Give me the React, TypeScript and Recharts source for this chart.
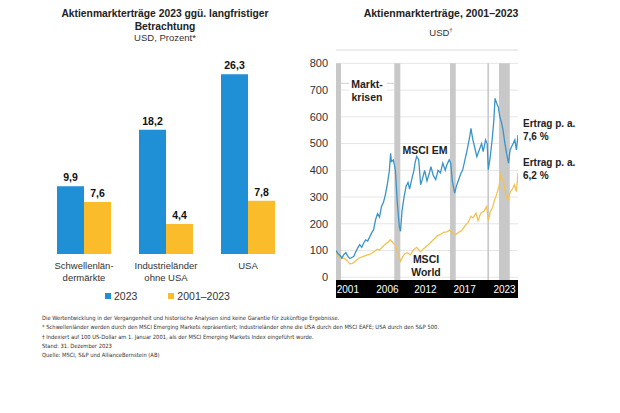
import React from 'react';
import {
  BarChart, Bar, XAxis, YAxis, LabelList, Legend,
  LineChart, Line, CartesianGrid, ReferenceArea, ReferenceLine,
} from 'recharts';

const FONT = "'Liberation Sans', Arial, Helvetica, sans-serif";
const NARROW = "'Liberation Sans Narrow', 'DejaVu Sans Condensed', Arial, sans-serif";
const BLUE = '#1f8fd6';
const YELLOW = '#fbbc2c';
const LINE_BLUE = '#3a94c9';
const LINE_YELLOW = '#f2c352';
const BAND = '#c8c8c8';
const TEXT = '#222';

// ---------- Left chart data ----------
const barCategories = ['Schwellenlän-\ndermärkte', 'Industrieländer\nohne USA', 'USA'];
const returns2023 = [9.9, 18.2, 26.3];
const returnsLongTerm = [7.6, 4.4, 7.8];
const seriesNames = ['2023', '2001–2023'];

// ---------- Right chart data ----------
const emYears = [2001.0, 2001.25, 2001.5, 2001.75, 2002.0, 2002.25, 2002.5, 2002.75, 2003.0, 2003.25, 2003.5, 2003.75, 2004.0, 2004.25, 2004.5, 2004.75, 2005.0, 2005.25, 2005.5, 2005.75, 2006.0, 2006.25, 2006.5, 2006.75, 2007.0, 2007.25, 2007.5, 2007.75, 2007.9, 2008.0, 2008.25, 2008.5, 2008.75, 2009.0, 2009.15, 2009.35, 2009.6, 2009.85, 2010.1, 2010.3, 2010.6, 2010.85, 2011.0, 2011.2, 2011.45, 2011.7, 2011.9, 2012.2, 2012.5, 2012.8, 2013.0, 2013.3, 2013.6, 2013.9, 2014.2, 2014.5, 2014.8, 2015.0, 2015.3, 2015.5, 2015.7, 2016.0, 2016.2, 2016.5, 2016.8, 2017.0, 2017.3, 2017.6, 2017.9, 2018.05, 2018.3, 2018.5, 2018.8, 2019.1, 2019.4, 2019.6, 2019.9, 2020.1, 2020.25, 2020.5, 2020.75, 2020.95, 2021.1, 2021.3, 2021.5, 2021.7, 2021.9, 2022.1, 2022.35, 2022.55, 2022.8, 2023.0, 2023.2, 2023.4, 2023.6, 2023.8, 2024.0];
const emValues = [100, 88, 82, 72, 85, 92, 78, 70, 74, 78, 95, 110, 122, 112, 128, 140, 135, 150, 166, 178, 215, 238, 225, 265, 280, 310, 350, 400, 464, 433, 439, 402, 279, 190, 172, 250, 300, 340, 355, 330, 370, 400, 430, 452, 440, 346, 365, 400, 360, 390, 414, 380, 365, 400, 390, 427, 400, 420, 439, 427, 360, 315, 340, 365, 390, 400, 440, 480, 526, 557, 514, 489, 451, 476, 500, 470, 514, 500, 402, 452, 520, 588, 669, 651, 638, 601, 580, 551, 500, 464, 427, 476, 489, 501, 514, 476, 532];

const worldYears = [2001.0, 2001.3, 2001.7, 2002.0, 2002.4, 2002.75, 2003.1, 2003.5, 2003.9, 2004.3, 2004.8, 2005.3, 2005.8, 2006.2, 2006.5, 2006.9, 2007.3, 2007.6, 2007.85, 2008.2, 2008.5, 2008.8, 2009.15, 2009.4, 2009.7, 2010.0, 2010.4, 2010.8, 2011.2, 2011.7, 2012.0, 2012.4, 2012.8, 2013.3, 2013.8, 2014.2, 2014.6, 2015.0, 2015.4, 2015.7, 2016.1, 2016.5, 2016.9, 2017.3, 2017.7, 2018.05, 2018.3, 2018.7, 2018.95, 2019.3, 2019.7, 2020.05, 2020.25, 2020.5, 2020.8, 2021.0, 2021.3, 2021.6, 2021.8, 2022.2, 2022.45, 2022.75, 2023.0, 2023.3, 2023.55, 2023.8, 2024.0];
const worldValues = [92, 80, 70, 72, 62, 50, 52, 62, 72, 76, 82, 86, 95, 105, 102, 115, 125, 132, 140, 128, 122, 90, 60, 75, 88, 92, 84, 103, 112, 95, 105, 115, 125, 140, 155, 160, 168, 170, 176, 165, 159, 168, 175, 192, 205, 228, 222, 240, 212, 240, 248, 265, 212, 245, 262, 285, 310, 340, 383, 355, 310, 290, 318, 330, 346, 320, 390];

const crisisStarts = [2001.0, 2008.37, 2015.41, 2020.13, 2021.6];
const crisisEnds = [2001.63, 2009.13, 2016.13, 2020.34, 2022.96];

const yTicks = [0, 100, 200, 300, 400, 500, 600, 700, 800];
const xTickYears = [2002.5, 2007.5, 2012.3, 2017.25, 2022.3];
const xTickLabels = ['2001', '2006', '2012', '2017', '2023'];

const footnotes = [
  'Die Wertentwicklung in der Vergangenheit und historische Analysen sind keine Garantie für zukünftige Ergebnisse.',
  '* Schwellenländer werden durch den MSCI Emerging Markets repräsentiert; Industrieländer ohne die USA durch den MSCI EAFE; USA durch den S&P 500.',
  '† Indexiert auf 100 US-Dollar am 1. Januar 2001, als der MSCI Emerging Markets Index eingeführt wurde.',
  'Stand: 31. Dezember 2023',
  'Quelle: MSCI, S&P und AllianceBernstein (AB)',
];

const barData = barCategories.map((c, i) => ({ category: c, r2023: returns2023[i], rLong: returnsLongTerm[i] }));
const emData = emYears.map((x, i) => ({ x, y: emValues[i] }));
const worldData = worldYears.map((x, i) => ({ x, y: worldValues[i] }));

const fmt = (v: any) => String(v).replace('.', ',');

function CategoryTick(props: any) {
  const { x, y, payload } = props;
  const lines = String(payload.value).split('\n');
  return (
    <text x={x} y={y} textAnchor="middle" fontSize={9.5} fill="#333" fontFamily={FONT}>
      {lines.map((l, i) => (
        <tspan key={i} x={x} dy={i === 0 ? 14.5 : 12.5}>{l}</tspan>
      ))}
    </text>
  );
}

function YearTick(props: any) {
  const { x, y, index } = props;
  return (
    <text x={x} y={y} dy={3.6} textAnchor="middle" fontSize={10} fill="#fff" fontFamily={FONT}>
      {xTickLabels[index]}
    </text>
  );
}

function LegendContent(props: any) {
  const payload = [...(props.payload || [])].sort(
    (a: any, b: any) => seriesNames.indexOf(a.value) - seriesNames.indexOf(b.value)
  );
  return (
    <div style={{ display: 'flex', gap: 31, fontFamily: FONT, fontSize: 10.5, color: '#333', whiteSpace: 'nowrap' }}>
      {payload.map((p: any, i: number) => (
        <span key={i} style={{ display: 'inline-flex', alignItems: 'center' }}>
          <span style={{ display: 'inline-block', width: 6, height: 6, background: p.color, marginRight: 3 }} />
          {p.value}
        </span>
      ))}
    </div>
  );
}

export default function App() {
  return (
    <div style={{ position: 'absolute', left: 0, top: 0, width: 620, height: 413, background: '#fff', overflow: 'hidden' }}>
      <div style={{ position: 'absolute', left: 0, top: 0 }}>
        <BarChart width={300} height={310} data={barData} margin={{ top: 49, right: 11, bottom: 0, left: 43 }} barGap={0} barSize={27}>
          <XAxis dataKey="category" axisLine={false} tickLine={false} tickSize={0} tickMargin={0} height={56} tick={<CategoryTick />} interval={0} />
          <YAxis hide domain={[0, 30]} />
          <Legend
            verticalAlign="middle"
            layout="horizontal"
            content={<LegendContent />}
            wrapperStyle={{ position: 'absolute', top: 290, left: 105, width: 'auto', height: 'auto' }}
          />
          <Bar dataKey="r2023" name={seriesNames[0]} fill={BLUE} isAnimationActive={false}>
            <LabelList dataKey="r2023" position="top" offset={5} formatter={fmt} fill="#111" fontSize={10.5} fontWeight={700} fontFamily={FONT} />
          </Bar>
          <Bar dataKey="rLong" name={seriesNames[1]} fill={YELLOW} isAnimationActive={false}>
            <LabelList dataKey="rLong" position="top" offset={5} formatter={fmt} fill="#111" fontSize={10.5} fontWeight={700} fontFamily={FONT} />
          </Bar>
        </BarChart>
      </div>

      <div style={{ position: 'absolute', left: 300, top: 0 }}>
        <LineChart width={320} height={310} margin={{ top: 50, right: 102, bottom: 0, left: 0 }}>
          <CartesianGrid horizontal vertical={false} stroke="#e6e6e6" />
          <XAxis
            type="number"
            dataKey="x"
            domain={[2001, 2024]}
            ticks={xTickYears}
            allowDataOverflow
            axisLine={{ stroke: '#000', strokeWidth: 18 }}
            tickLine={false}
            tickSize={0}
            tickMargin={0}
            height={21}
            tick={<YearTick />}
            interval={0}
          />
          <YAxis
            type="number"
            domain={[-44, 850]}
            ticks={yTicks}
            allowDataOverflow
            axisLine={false}
            tickLine={false}
            tickSize={0}
            tickMargin={8}
            width={36}
            interval={0}
            tick={{ fill: '#333', fontSize: 11, fontFamily: FONT }}
          />
          <ReferenceLine y={850} stroke="#e6e6e6" />
          {crisisStarts.map((s, i) => (
            <ReferenceArea key={i} x1={s} x2={crisisEnds[i]} y1={-10} y2={800} fill={BAND} fillOpacity={1} stroke="none" ifOverflow="visible" />
          ))}
          <Line data={worldData} dataKey="y" type="linear" stroke={LINE_YELLOW} strokeWidth={1.3} dot={false} isAnimationActive={false} />
          <Line data={emData} dataKey="y" type="linear" stroke={LINE_BLUE} strokeWidth={1.3} dot={false} isAnimationActive={false} />
        </LineChart>
      </div>

      <svg width={620} height={413} style={{ position: 'absolute', left: 0, top: 0, pointerEvents: 'none' }} fontFamily={FONT}>
        {/* Left title */}
        <text x={165} y={17} textAnchor="middle" fontSize={10.3} fontWeight={700} fill={TEXT}>Aktienmarkterträge 2023 ggü. langfristiger</text>
        <text x={165} y={29.5} textAnchor="middle" fontSize={10.3} fontWeight={700} fill={TEXT}>Betrachtung</text>
        <text x={165} y={41} textAnchor="middle" fontSize={9.5} fill="#333">USD, Prozent*</text>

        {/* Right title */}
        <text x={441} y={17} textAnchor="middle" fontSize={10.5} fontWeight={700} fill={TEXT}>Aktienmarkterträge, 2001–2023</text>
        <text x={441} y={35.5} textAnchor="middle" fontSize={9.5} fill="#333">USD<tspan fontSize={6} dy={-3.5}>†</tspan></text>

        {/* Markt-krisen */}
        <line x1={341} x2={394} y1={83.3} y2={83.3} stroke="#cfcfcf" strokeWidth={1} />
        <rect x={349} y={76} width={38} height={28} fill="#fff" />
        <text x={367} y={87.5} textAnchor="middle" fontSize={10.5} fontWeight={700} fill={TEXT}>Markt-</text>
        <text x={367} y={100.5} textAnchor="middle" fontSize={10.5} fontWeight={700} fill={TEXT}>krisen</text>

        <text x={425} y={154} textAnchor="middle" fontSize={10.5} fontWeight={700} fill={TEXT}>MSCI EM</text>
        <text x={426} y={263} textAnchor="middle" fontSize={10.5} fontWeight={700} fill={TEXT}>MSCI</text>
        <text x={426} y={275.5} textAnchor="middle" fontSize={10.5} fontWeight={700} fill={TEXT}>World</text>

        <text x={523} y={127} fontSize={10} fontWeight={700} fill={TEXT}>Ertrag p. a.</text>
        <text x={523} y={140} fontSize={10} fontWeight={700} fill={TEXT}>7,6 %</text>
        <text x={523} y={166} fontSize={10} fontWeight={700} fill={TEXT}>Ertrag p. a.</text>
        <text x={523} y={179} fontSize={10} fontWeight={700} fill={TEXT}>6,2 %</text>

        {/* Footnotes */}
        {footnotes.map((f, i) => (
          <text key={i} x={42} y={320 + i * 9.3} fontSize={5.75} fill="#333" fontFamily={NARROW}>{f}</text>
        ))}
      </svg>
    </div>
  );
}
